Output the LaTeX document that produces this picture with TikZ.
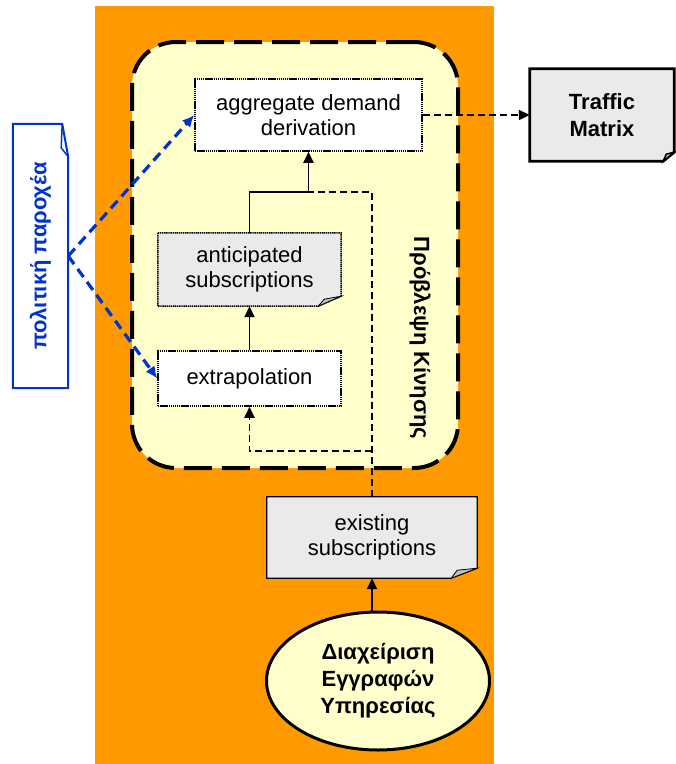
\documentclass[tikz,border=0pt]{standalone}
\usepackage{fontspec}
\usepackage{graphicx}
\setmainfont{Liberation Sans}
\usetikzlibrary{arrows.meta,calc,shapes.geometric}
\pgfdeclarelayer{back}
\pgfdeclarelayer{mid}
\pgfsetlayers{back,mid,main}
\definecolor{orangebg}{HTML}{FF9900}
\definecolor{paleyellow}{HTML}{FFFFCC}
\definecolor{docgrey}{HTML}{EAEAEA}
\definecolor{foldgrey}{HTML}{C0C0C0}
\definecolor{policyblue}{HTML}{0033CC}
\newcommand{\txtfont}{\fontsize{22}{25}\selectfont}
\newcommand{\boldfont}{\fontsize{22}{27}\selectfont\bfseries}
\begin{document}
\begin{tikzpicture}[x=1pt,y=-1pt,
  dotborder/.style={draw=black, line width=1.5pt, dash pattern=on 1.4pt off 0.7pt},
  procbox/.style={dotborder, fill=white, font=\txtfont, align=center, inner sep=0pt},
  docbox/.style={font=\txtfont, align=center, inner sep=0pt},
  solidarrow/.style={draw=black, line width=1.9pt, -{Triangle[length=11pt,width=10pt]}},
  dashline/.style={draw=black, line width=1.8pt, dash pattern=on 7pt off 4pt},
  dasharrow/.style={dashline, -{Triangle[length=11pt,width=10pt]}},
  bluearrow/.style={draw=policyblue, line width=3.2pt, dash pattern=on 10pt off 6pt,
    -{Latex[length=12pt,width=11pt]}},
]
\useasboundingbox (0,0) rectangle (676,764);

% orange service area and forecasting region
\begin{pgfonlayer}{back}
  \fill[orangebg] (95,6) rectangle (494,764);
  \node[draw=black, fill=paleyellow, line width=4pt, dash pattern=on 28pt off 10pt,
    rounded corners=44pt, minimum width=326pt, minimum height=426pt] (region) at (295,255) {};
\end{pgfonlayer}
\node[rotate=-90, font=\boldfont] (regionlabel) at (420,338) {Πρόβλεψη Κίνησης};

% process boxes
\node[procbox, minimum width=227pt, minimum height=72pt] (agg) at (308.5,115) {aggregate demand\\derivation};
\node[procbox, minimum width=183pt, minimum height=55pt] (ext) at (249.5,378.5) {extrapolation};

% document boxes (outlines drawn below)
\node[docbox, minimum width=183pt, minimum height=73pt] (ant) at (249.5,269.5) {anticipated\\subscriptions};
\node[docbox, minimum width=210pt, minimum height=81pt] (exi) at (372,537.5) {existing\\subscriptions};
\node[docbox, font=\boldfont, minimum width=144pt, minimum height=92pt] (tm) at (602,115) {Traffic\\Matrix};
\node[inner sep=0pt, minimum width=55pt, minimum height=264pt, text=policyblue]
  (pol) at (40.5,256) {\rotatebox{90}{\boldfont πολιτική παροχέα}};

% subscriber records
\node[ellipse, draw=black, line width=3pt, fill=paleyellow, minimum width=223pt,
  minimum height=138pt, inner sep=0pt, align=center, font=\boldfont] (ell) at (378,681)
  {Διαχείριση\\Εγγραφών\\Υπηρεσίας};

% folded-corner outlines
\begin{pgfonlayer}{mid}
  \filldraw[fill=docgrey, dotborder]
    (ant.north west) -- (ant.north east) -- ($(ant.south east)+(0,-10)$)
    -- ($(ant.south east)+(-23,0)$) -- (ant.south west) -- cycle;
  \filldraw[fill=foldgrey, draw=black, line width=0.8pt]
    ($(ant.south east)+(-23,0)$) -- ($(ant.south east)+(-17,-7)$) -- ($(ant.south east)+(0,-10)$) -- cycle;

  \filldraw[fill=docgrey, draw=black, line width=1.2pt]
    (exi.north west) -- (exi.north east) -- ($(exi.south east)+(0,-10)$)
    -- ($(exi.south east)+(-26,0)$) -- (exi.south west) -- cycle;
  \filldraw[fill=foldgrey, draw=black, line width=0.8pt]
    ($(exi.south east)+(-26,0)$) -- ($(exi.south east)+(-20,-8)$) -- ($(exi.south east)+(0,-10)$) -- cycle;

  \filldraw[fill=docgrey, draw=black, line width=2.8pt, line join=miter]
    (tm.north west) -- (tm.north east) -- ($(tm.south east)+(0,-9)$)
    -- ($(tm.south east)+(-11,0)$) -- (tm.south west) -- cycle;
  \filldraw[fill=foldgrey, draw=black, line width=1.5pt]
    ($(tm.south east)+(-11,0)$) -- ($(tm.south east)+(-8,-7)$) -- ($(tm.south east)+(0,-9)$) -- cycle;

  \filldraw[fill=white, draw=policyblue, line width=2pt]
    (pol.south west) -- (pol.north west) -- ($(pol.north east)+(-6,0)$)
    -- ($(pol.north east)+(0,33)$) -- (pol.south east) -- cycle;
  \draw[policyblue, line width=1.5pt]
    ($(pol.north east)+(-6,0)$) -- ($(pol.north east)+(-7,24)$) -- ($(pol.north east)+(0,33)$);
\end{pgfonlayer}

% junction points of the flow lines
\coordinate (join) at (308.5,192);
\coordinate (feedtop) at (372,192);
\coordinate (feedmid) at (372,451);
\coordinate (feedleft) at (249.5,451);

% connectors
\draw[solidarrow] (ext.north) -- (ant.south);
\draw[solidarrow] (ant.north) |- (join) -- (agg.south);
\draw[dashline] (exi.north) -- (feedtop) -- (join);
\draw[dasharrow] (feedmid) -- (feedleft) -- (ext.south);
\draw[solidarrow] (exi.south |- ell.north) -- (exi.south);
\draw[dasharrow] (agg.east) -- (tm.west);
\draw[bluearrow] (pol.east) -- (agg.west);
\draw[bluearrow] (pol.east) -- (ext.west);
\end{tikzpicture}
\end{document}
